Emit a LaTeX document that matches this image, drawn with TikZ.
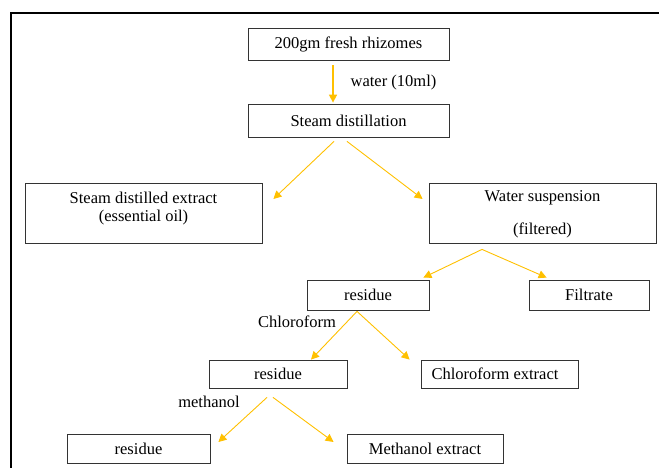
\documentclass[tikz,border=0pt]{standalone}
\usepackage{fontspec}
\setmainfont{Liberation Serif}
\usetikzlibrary{arrows.meta}
\definecolor{gold}{HTML}{FFC000}
\definecolor{boxline}{HTML}{333333}
\tikzset{
  box/.style={draw=boxline, line width=0.8pt, rectangle, inner sep=0pt, font=\fontsize{16.5}{20}\selectfont},
  txt/.style={inner sep=0pt, font=\fontsize{16.5}{20}\selectfont},
  arr/.style={draw=gold, line width=0.9pt, -{Triangle[length=8pt,width=8pt]}, gold}
}
\begin{document}
\begin{tikzpicture}[x=1pt,y=-1pt]
\useasboundingbox (0,0) rectangle (659,468);
% frame
\draw[line width=2pt] (11,469) -- (11,13) -- (660,13);
% boxes
\node[box, minimum width=201pt, minimum height=32pt] (b1) at (348.5,44) {200gm fresh rhizomes};
\node[box, minimum width=201pt, minimum height=33pt] (b2) at (348.5,120.5) {Steam distillation};
\node[box, minimum width=237pt, minimum height=60pt] (b3) at (143.5,213) {};
\node[txt] (t3a) at (143.5,198) {Steam distilled extract};
\node[txt] (t3b) at (143.5,218) {(essential oil)};
\node[box, minimum width=227pt, minimum height=60pt] (b4) at (542.5,213) {};
\node[txt] (t4a) at (542.5,198) {Water suspension};
\node[txt] (t4b) at (542.5,230) {(filtered)};
\node[box, minimum width=122pt, minimum height=30pt] (b5) at (368,295) {residue};
\node[box, minimum width=120pt, minimum height=30pt] (b6) at (589,295) {Filtrate};
\node[box, minimum width=138pt, minimum height=28pt] (b7) at (278,374) {residue};
\node[box, minimum width=157pt, minimum height=28pt] (b8) at (499.5,374) {};
\node[txt] (t8) at (495,374) {Chloroform extract};
\node[box, minimum width=143pt, minimum height=29pt] (b9) at (138.5,448.5) {residue};
\node[box, minimum width=156pt, minimum height=29pt] (b10) at (425,448.5) {Methanol extract};
% labels
\node[txt] (lw) at (393.5,83) {water (10ml)};
\node[txt] (lc) at (297,322) {Chloroform};
\node[txt] (lm) at (209,402) {methanol};
% arrows
\draw[arr, line width=1.6pt] ([xshift=-15.5pt,yshift=-5pt]b1.south) -- ([xshift=-15.5pt,yshift=1pt]b2.north);
\draw[arr] ([xshift=-14.5pt,yshift=-4pt]b2.south) -- ([xshift=11pt,yshift=14pt]b3.east);
\draw[arr] ([xshift=-1.5pt,yshift=-4pt]b2.south) -- ([xshift=-6pt,yshift=14pt]b4.west);
\draw[arr] ([xshift=-60.5pt,yshift=-6pt]b4.south) -- ([xshift=-6pt,yshift=2pt]b5.north east);
\draw[arr] ([xshift=-60.5pt,yshift=-6pt]b4.south) -- ([xshift=18pt,yshift=2pt]b6.north west);
\draw[arr] ([xshift=-11pt,yshift=-1pt]b5.south) -- ([xshift=33pt,yshift=0pt]b7.north);
\draw[arr] ([xshift=-11pt,yshift=-1pt]b5.south) -- ([xshift=-11pt,yshift=0pt]b8.north west);
\draw[arr] ([xshift=-11pt,yshift=-9pt]b7.south) -- ([xshift=8pt,yshift=6.5pt]b9.east);
\draw[arr] ([xshift=-5pt,yshift=-9pt]b7.south) -- ([xshift=-13pt,yshift=6.5pt]b10.west);
\end{tikzpicture}
\end{document}
